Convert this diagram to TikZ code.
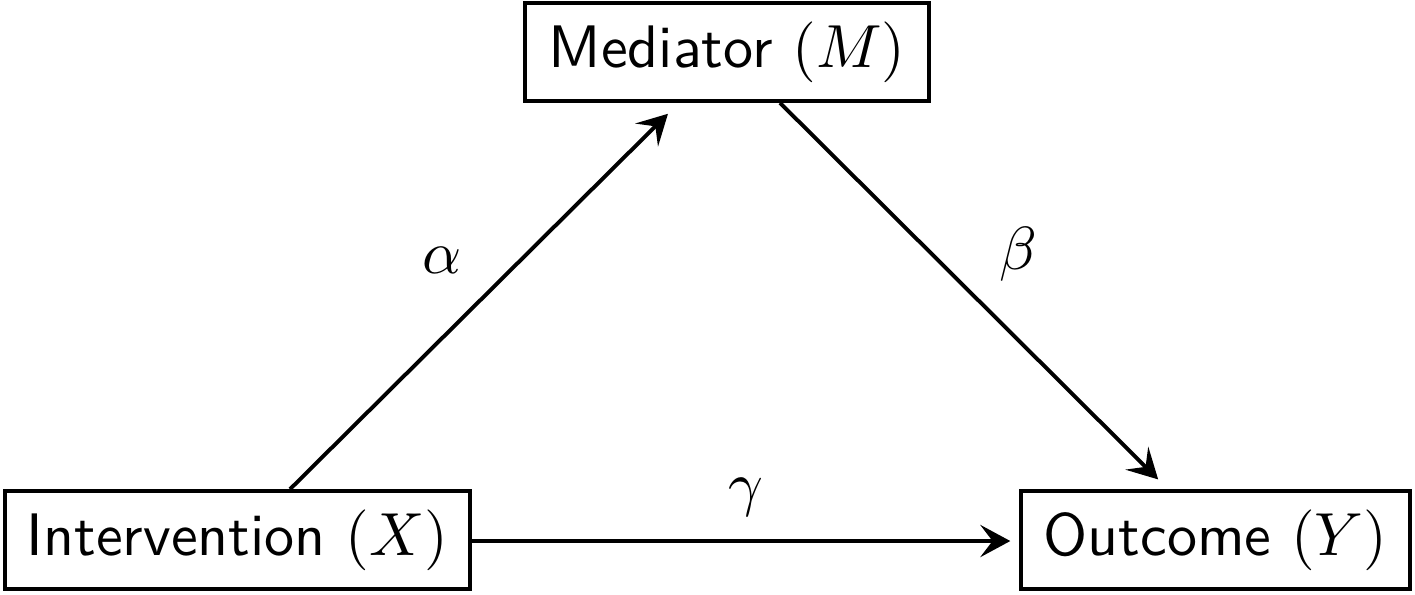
\documentclass[tikz,border=0pt]{standalone}
\usetikzlibrary{calc,arrows.meta}
\begin{document}
\begin{tikzpicture}[x=0.18pt,y=-0.18pt,
  box/.style={draw,line width=0.65pt,inner sep=0pt,minimum height=98*0.18pt,font=\sffamily\fontsize{10.8}{12}\selectfont},
  conn/.style={-{Stealth[length=5.4pt,width=5.8pt,inset=2.2pt]},line width=0.7pt},
  lab/.style={font=\fontsize{10.8}{12}\selectfont}]
\useasboundingbox (0,0) rectangle (1415,594);
\node[box,minimum width=465*0.18pt] (X) at (237.5,540) {Intervention $(X)$};
\node[box,minimum width=404*0.18pt] (M) at (727,52) {Mediator $(M)$};
\node[box,minimum width=389*0.18pt] (Y) at (1215.5,540) {Outcome $(Y)$};
\draw[conn,shorten >=2.8pt] ([xshift=52.5*0.18pt]X.north) -- ([xshift=-48*0.18pt]M.south)
  node[lab,pos=0.5,xshift=-42*0.18pt,yshift=36*0.18pt] (a) {$\alpha$};
\draw[conn,shorten >=2.5pt] ([xshift=53*0.18pt]M.south) -- ([xshift=-47.5*0.18pt]Y.north)
  node[lab,pos=0.5,xshift=44*0.18pt,yshift=42*0.18pt] (b) {$\beta$};
\draw[conn,shorten >=1.6pt] ([yshift=-1*0.18pt]X.east) -- ([yshift=-1*0.18pt]Y.west)
  node[lab,pos=0.5,yshift=44*0.18pt] (g) {$\gamma$};
\end{tikzpicture}
\end{document}
